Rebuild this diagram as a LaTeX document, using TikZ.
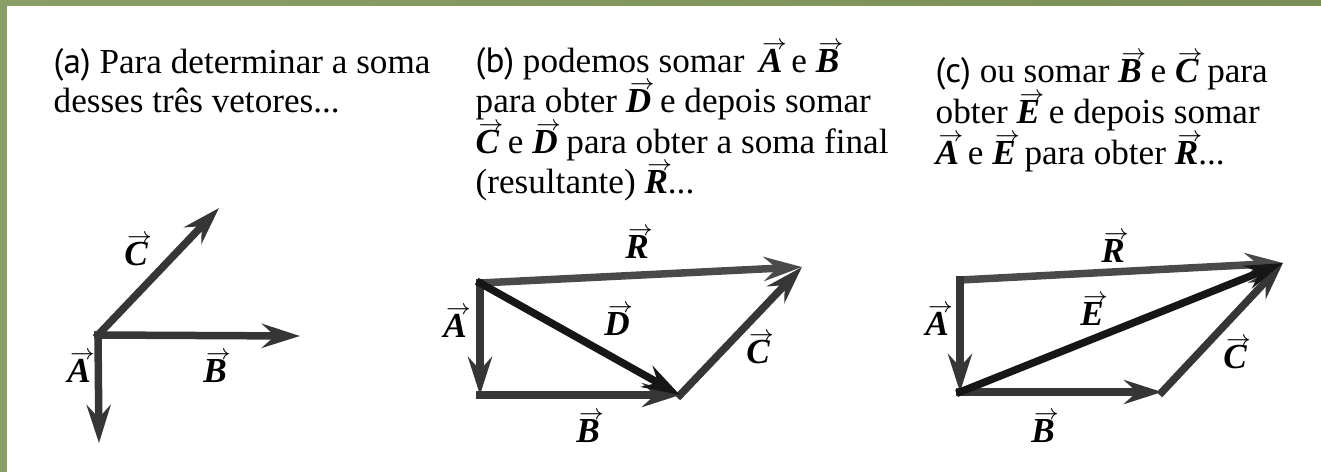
\documentclass[tikz,border=0pt]{standalone}
\usepackage{amsmath}
\usepackage{fontspec}
\setmainfont{Liberation Serif}
\setsansfont{PT Sans}
\usetikzlibrary{arrows.meta,calc}
\definecolor{vgray}{HTML}{363636}
\definecolor{vlight}{HTML}{4A4A4A}
\definecolor{vdark}{HTML}{161616}
\definecolor{frgreen}{HTML}{8A9E68}
\definecolor{frgreendk}{HTML}{7A8F55}
\newsavebox{\vecbox}
\newcommand{\vecl}[1]{\sbox{\vecbox}{\bfseries\itshape #1}%
  \makebox[0pt][l]{\makebox[\wd\vecbox]{\hspace{0.2em}\raisebox{0.64em}{\fontsize{6}{6}\selectfont$\rightarrow$}}}%
  \usebox{\vecbox}}
\tikzset{
  vec/.style     ={draw=vgray, line width=0.75mm, line cap=rect,
                   -{Stealth[length=3.8mm, width=2.4mm, inset=1.3mm]}},
  vecres/.style  ={vec, draw=vlight},
  vecsum/.style  ={vec, draw=vdark},
  vlabel/.style  ={font=\fontsize{10}{12}\selectfont, inner sep=0pt},
  caption/.style ={font=\fontsize{10}{12}\selectfont, anchor=base west, inner sep=0pt},
}

\begin{document}
\begin{tikzpicture}
  \useasboundingbox (0,0) rectangle (13.21,4.72);
  \fill[white] (0,0) rectangle (13.21,4.72);
  % --- frame ---
  \fill[frgreen] (0,0) rectangle (0.07,4.72);
  \shade[left color=frgreen, right color=frgreendk] (0,4.67) rectangle (13.21,4.72);
  % --- (a) three vectors ---
  \begin{scope}
    \node[caption] (capa1) at (0.53,3.99) {{\sffamily(a)} Para determinar a soma};
    \node[caption] (capa2) at (0.53,3.60) {desses três vetores...};
    \coordinate (aO) at (0.98,1.37);
    \coordinate (aA) at (0.99,0.29);
    \coordinate (aB) at (3.00,1.36);
    \coordinate (aC) at (2.19,2.64);
    \draw[vec] (aO) -- (aC);
    \draw[vec] (aO) -- (aB);
    \draw[vec] (aO) -- (aA);
    \node[vlabel] (laC) at (1.36,2.22) {\vecl{C}};
    \node[vlabel] (laA) at (0.79,1.05) {\vecl{A}};
    \node[vlabel] (laB) at (2.15,1.05) {\vecl{B}};
  \end{scope}
  % --- (b) A+B = D, then C+D = R ---
  \begin{scope}[xshift=4.8cm]
    \node[caption] (capb1) at (-0.05,4.00) {{\sffamily(b)} podemos somar\, \vecl{A} e \vecl{B}};
    \node[caption] (capb2) at (-0.05,3.60) {para obter \vecl{D} e depois somar};
    \node[caption] (capb3) at (-0.05,3.19) {\vecl{C} e \vecl{D} para obter a soma final};
    \node[caption] (capb4) at (-0.05,2.79) {(resultante) \vecl{R}...};
    \coordinate (bP) at (0,1.89);
    \coordinate (bQ) at (0,0.77);
    \coordinate (bS) at (2.00,0.77);
    \coordinate (bT) at (3.22,2.05);
    \draw[vecres] (bP) -- (bT);
    \draw[vec] (bP) -- (bQ);
    \draw[vec] (bQ) -- (bS);
    \draw[vec] (bS) -- (bT);
    \draw[vecsum] (bP) -- (bS);
    \node[vlabel] (lbR) at (1.57,2.29) {\vecl{R}};
    \node[vlabel] (lbA) at (-0.25,1.50) {\vecl{A}};
    \node[vlabel] (lbD) at (1.37,1.52) {\vecl{D}};
    \node[vlabel] (lbC) at (2.78,1.24) {\vecl{C}};
    \node[vlabel] (lbB) at (1.08,0.45) {\vecl{B}};
  \end{scope}
  % --- (c) B+C = E, then A+E = R ---
  \begin{scope}[xshift=9.6cm]
    \node[caption] (capc1) at (-0.25,3.90) {{\sffamily(c)} ou somar \vecl{B} e \vecl{C} para};
    \node[caption] (capc2) at (-0.25,3.49) {obter \vecl{E} e depois somar};
    \node[caption] (capc3) at (-0.25,3.08) {\vecl{A} e \vecl{E} para obter \vecl{R}...};
    \coordinate (cP) at (0,1.92);
    \coordinate (cQ) at (0,0.80);
    \coordinate (cS) at (2.02,0.80);
    \coordinate (cT) at (3.23,2.09);
    \draw[vecres] (cP) -- (cT);
    \draw[vec] (cP) -- (cQ);
    \draw[vec] (cQ) -- (cS);
    \draw[vec] (cS) -- (cT);
    \draw[vecsum] (cQ) -- (cT);
    \node[vlabel] (lcR) at (1.53,2.25) {\vecl{R}};
    \node[vlabel] (lcA) at (-0.23,1.52) {\vecl{A}};
    \node[vlabel] (lcE) at (1.32,1.62) {\vecl{E}};
    \node[vlabel] (lcC) at (2.75,1.19) {\vecl{C}};
    \node[vlabel] (lcB) at (0.83,0.45) {\vecl{B}};
  \end{scope}
\end{tikzpicture}
\end{document}
